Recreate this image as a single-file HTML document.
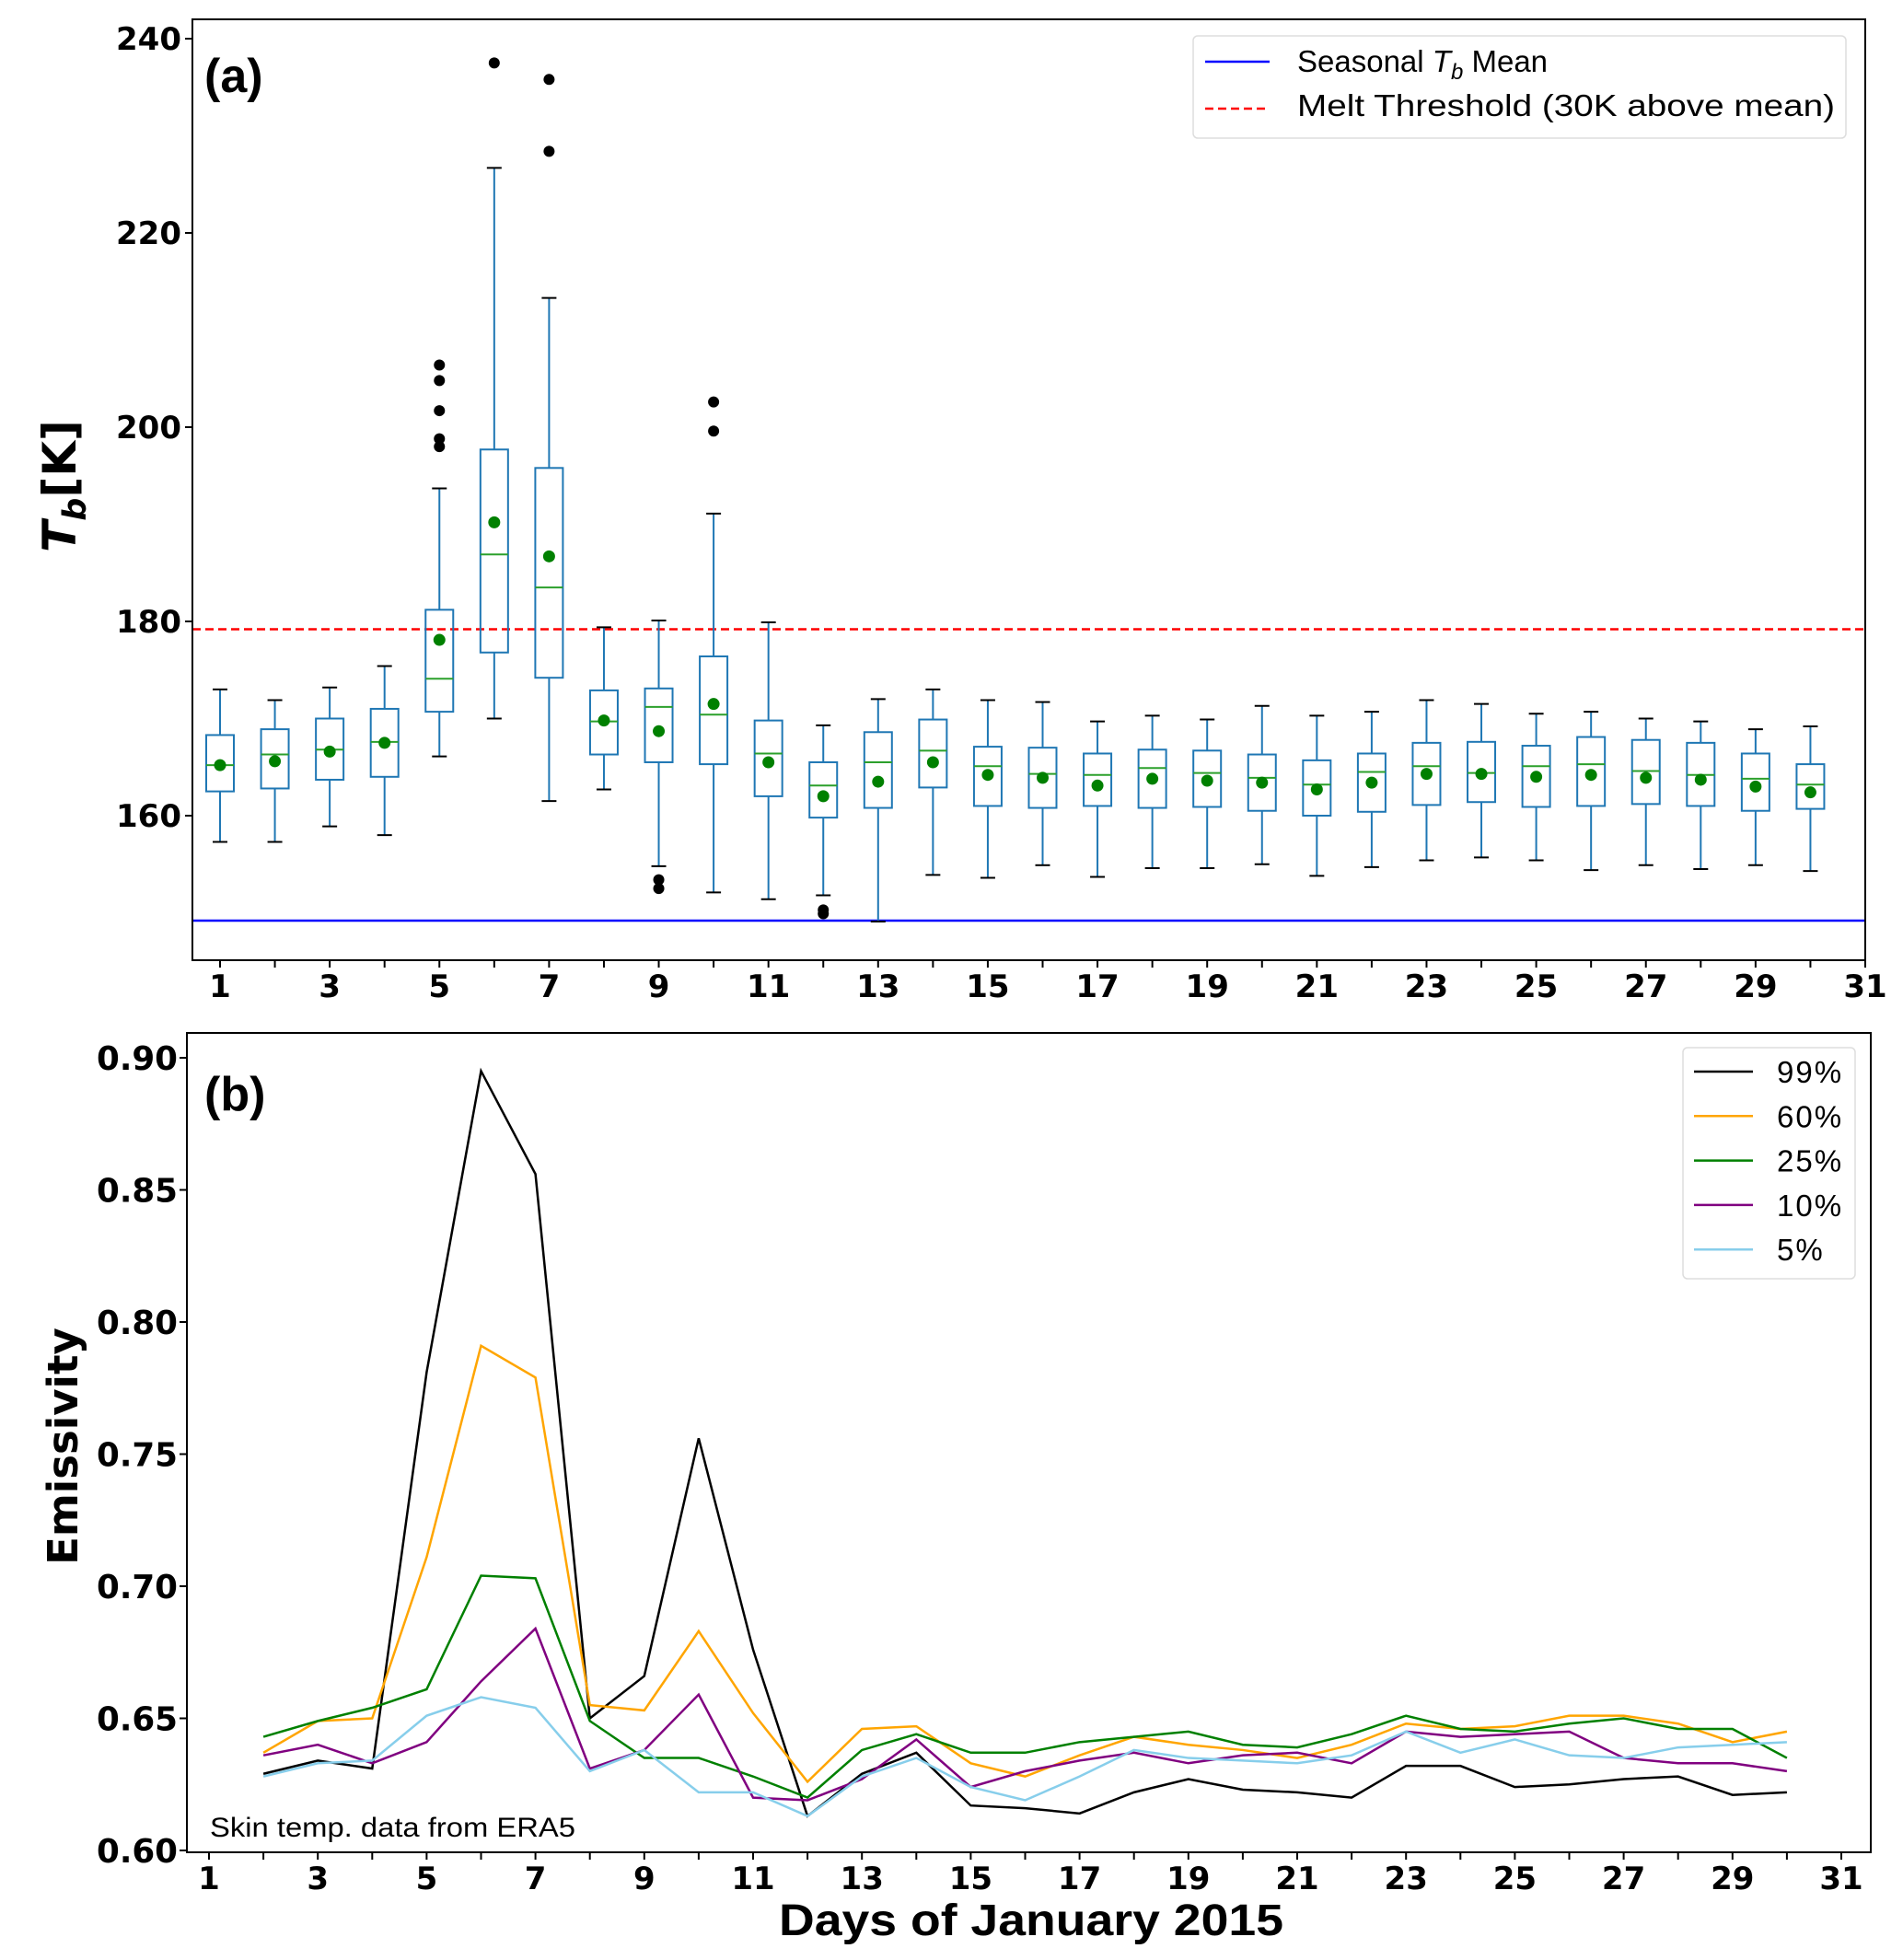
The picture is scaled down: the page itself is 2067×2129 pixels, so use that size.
<!DOCTYPE html>
<html><head><meta charset="utf-8"><style>
html,body{margin:0;padding:0;background:#fff;}
svg{display:block;}
.tk{font-family:"DejaVu Sans","Liberation Sans",sans-serif;font-weight:bold;font-size:34px;}
.tkb{font-family:"DejaVu Sans","Liberation Sans",sans-serif;font-weight:bold;font-size:36px;}
.nar{font-family:"Liberation Sans Narrow","Liberation Sans",sans-serif;}
</style></head><body>
<svg id="fig" width="2067" height="2129" viewBox="0 0 2067 2129" xmlns="http://www.w3.org/2000/svg"></svg>
<script>
// ---- Panel (a) data: box plot stats per day ----
const days = [1,2,3,4,5,6,7,8,9,10,11,12,13,14,15,16,17,18,19,20,21,22,23,24,25,26,27,28,29,30];
const whiskLo = [157.3,157.3,158.9,158.0,166.1,170.0,161.5,162.7,154.8,152.1,151.4,151.8,149.1,153.9,153.6,154.9,153.7,154.6,154.6,155.0,153.8,154.7,155.4,155.7,155.4,154.4,154.9,154.5,154.9,154.3];
const q1 = [162.5,162.8,163.7,164.0,170.7,176.8,174.2,166.3,165.5,165.3,162.0,159.8,160.8,162.9,161.0,160.8,161.0,160.8,160.9,160.5,160.0,160.4,161.1,161.4,160.9,161.0,161.2,161.0,160.5,160.7];
const medians = [165.2,166.3,166.8,167.6,174.1,186.9,183.5,169.7,171.2,170.4,166.4,163.1,165.5,166.7,165.1,164.3,164.2,164.9,164.4,163.9,163.2,164.5,165.1,164.4,165.1,165.3,164.6,164.2,163.8,163.2];
const q3 = [168.3,168.9,170.0,171.0,181.2,197.7,195.8,172.9,173.1,176.4,169.8,165.5,168.6,169.9,167.1,167.0,166.4,166.8,166.7,166.3,165.7,166.4,167.5,167.6,167.2,168.1,167.8,167.5,166.4,165.3];
const whiskHi = [173.0,171.9,173.2,175.4,193.7,226.7,213.3,179.4,180.1,191.1,179.9,169.3,172.0,173.0,171.9,171.7,169.7,170.3,169.9,171.3,170.3,170.7,171.9,171.5,170.5,170.7,170.0,169.7,168.9,169.2];
const means = [165.2,165.6,166.6,167.5,178.1,190.2,186.7,169.8,168.7,171.5,165.5,162.0,163.5,165.5,164.2,163.9,163.1,163.8,163.6,163.4,162.7,163.4,164.3,164.3,164.0,164.2,163.9,163.7,163.0,162.4];
const outlierDays = [5,5,5,5,5,6,7,7,9,9,10,10,12,12];
const outlierVals = [206.4,204.8,201.7,198.8,198.0,237.5,235.8,228.4,153.4,152.5,202.6,199.6,150.3,149.9];
const seasonalMean = 149.2;
const meltThreshold = 179.2;
const yTicksA = [160,180,200,220,240];
const xTickLabels = [1,3,5,7,9,11,13,15,17,19,21,23,25,27,29,31];

// ---- Panel (b) data ----
const daysB = [2,3,4,5,6,7,8,9,10,11,12,13,14,15,16,17,18,19,20,21,22,23,24,25,26,27,28,29,30];
const p99 = [0.629,0.634,0.631,0.781,0.895,0.856,0.650,0.666,0.756,0.676,0.613,0.629,0.637,0.617,0.616,0.614,0.622,0.627,0.623,0.622,0.620,0.632,0.632,0.624,0.625,0.627,0.628,0.621,0.622];
const p60 = [0.637,0.649,0.650,0.711,0.791,0.779,0.655,0.653,0.683,0.652,0.626,0.646,0.647,0.633,0.628,0.636,0.643,0.640,0.638,0.635,0.640,0.648,0.646,0.647,0.651,0.651,0.648,0.641,0.645];
const p25 = [0.643,0.649,0.654,0.661,0.704,0.703,0.649,0.635,0.635,0.628,0.620,0.638,0.644,0.637,0.637,0.641,0.643,0.645,0.640,0.639,0.644,0.651,0.646,0.645,0.648,0.650,0.646,0.646,0.635];
const p10 = [0.636,0.640,0.633,0.641,0.664,0.684,0.631,0.638,0.659,0.620,0.619,0.627,0.642,0.624,0.630,0.634,0.637,0.633,0.636,0.637,0.633,0.645,0.643,0.644,0.645,0.635,0.633,0.633,0.630];
const p5 = [0.628,0.633,0.634,0.651,0.658,0.654,0.630,0.638,0.622,0.622,0.613,0.628,0.635,0.624,0.619,0.628,0.638,0.635,0.634,0.633,0.636,0.645,0.637,0.642,0.636,0.635,0.639,0.640,0.641];
const seriesNames = ["99%","60%","25%","10%","5%"];
const seriesColors = ["#000000","#ffa500","#008000","#800080","#87ceeb"];
const yTicksB = [0.60,0.65,0.70,0.75,0.80,0.85,0.90];

const NS="http://www.w3.org/2000/svg";
const svg=document.getElementById('fig');
function mk(tag,attrs,parent){const e=document.createElementNS(NS,tag);for(const k in attrs)e.setAttribute(k,attrs[k]);(parent||svg).appendChild(e);return e;}

const A={l:209,r:2026,t:21,b:1043};
const xA=d=>239+(d-1)*(2026-239)/30;
const yA=v=>886-(v-160)*(886-42)/80;
const B={l:203,r:2032,t:1122,b:2012};
const xB=d=>227+(d-1)*(2000-227)/30;
const yB=v=>2010-(v-0.60)*(2010-1149)/0.30;

// ===== Panel (a) =====
const gA=mk('g',{});


let e;
e=mk('line',{x1:A.l,x2:A.r,y1:yA(seasonalMean),y2:yA(seasonalMean),stroke:'#0000ff','stroke-width':2.5},gA);

e=mk('line',{x1:A.l,x2:A.r,y1:yA(meltThreshold),y2:yA(meltThreshold),stroke:'#ff0000','stroke-width':2.5,'stroke-dasharray':'9,5'},gA);

const hw=15, cw=8;
days.forEach((d,i)=>{
  const g=mk('g',{},gA);
  
  
  const x=xA(d);
  mk('line',{x1:x,x2:x,y1:yA(whiskLo[i]),y2:yA(q1[i]),stroke:'#1f77b4','stroke-width':2},g);
  mk('line',{x1:x,x2:x,y1:yA(q3[i]),y2:yA(whiskHi[i]),stroke:'#1f77b4','stroke-width':2},g);
  mk('line',{x1:x-cw,x2:x+cw,y1:yA(whiskLo[i]),y2:yA(whiskLo[i]),stroke:'#000','stroke-width':2},g);
  mk('line',{x1:x-cw,x2:x+cw,y1:yA(whiskHi[i]),y2:yA(whiskHi[i]),stroke:'#000','stroke-width':2},g);
  mk('rect',{x:x-hw,y:yA(q3[i]),width:2*hw,height:yA(q1[i])-yA(q3[i]),fill:'none',stroke:'#1f77b4','stroke-width':2},g);
  mk('line',{x1:x-hw,x2:x+hw,y1:yA(medians[i]),y2:yA(medians[i]),stroke:'#2ca02c','stroke-width':2},g);
  const m=mk('circle',{cx:x,cy:yA(means[i]),r:6.5,fill:'#008000'},g);
  
  
});
outlierDays.forEach((d,i)=>{
  const c=mk('circle',{cx:xA(d),cy:yA(outlierVals[i]),r:6,fill:'#000'},gA);
  
  
});
e=mk('rect',{x:A.l,y:A.t,width:A.r-A.l,height:A.b-A.t,fill:'none',stroke:'#000','stroke-width':2},gA);

yTicksA.forEach(v=>{
  mk('line',{x1:A.l-8,x2:A.l,y1:yA(v),y2:yA(v),stroke:'#000','stroke-width':2},gA);
  const t=mk('text',{x:A.l-12,y:yA(v)+12,'text-anchor':'end',class:'tk'},gA);t.textContent=v;
  
});
for(let d=1;d<=31;d++) mk('line',{x1:xA(d),x2:xA(d),y1:A.b,y2:A.b+8,stroke:'#000','stroke-width':2},gA);
xTickLabels.forEach(d=>{
  const t=mk('text',{x:xA(d),y:1083,'text-anchor':'middle',class:'tk'},gA);t.textContent=d;
  
});
e=mk('text',{x:222,y:100,class:'nar','font-size':52,'font-weight':'bold'},gA);e.textContent='(a)';

e=mk('text',{x:0,y:0,transform:'translate(82,528) rotate(-90)','text-anchor':'middle','font-family':'DejaVu Sans, sans-serif','font-weight':'bold','font-size':50},gA);
e.innerHTML='<tspan font-style="italic">T</tspan><tspan font-style="italic" font-size="35" dy="11">b</tspan><tspan dy="-11">[K]</tspan>';

const lgA=mk('g',{},gA);


mk('rect',{x:1296,y:39,width:709,height:111,rx:5,fill:'#fff',stroke:'#ddd','stroke-width':1.5},lgA);
mk('line',{x1:1309,x2:1379,y1:67,y2:67,stroke:'#0000ff','stroke-width':2.5},lgA);
mk('line',{x1:1309,x2:1379,y1:118,y2:118,stroke:'#ff0000','stroke-width':2.5,'stroke-dasharray':'9,5'},lgA);
e=mk('text',{x:1409,y:78,class:'nar','font-size':33},lgA);
e.innerHTML='Seasonal <tspan font-style="italic">T</tspan><tspan font-style="italic" font-size="24" dy="8">b</tspan><tspan dy="-8"> Mean</tspan>';

e=mk('text',{x:1409,y:126,class:'nar','font-size':33,textLength:584,lengthAdjust:'spacingAndGlyphs'},lgA);
e.textContent='Melt Threshold (30K above mean)';


// ===== Panel (b) =====
const gB=mk('g',{});


const series=[p99,p60,p25,p10,p5];
series.forEach((s,k)=>{
  const pts=s.map((v,i)=>xB(daysB[i])+','+yB(v)).join(' ');
  const pl=mk('polyline',{points:pts,fill:'none',stroke:seriesColors[k],'stroke-width':2.5,'stroke-linejoin':'miter'},gB);
  
  
});
e=mk('rect',{x:B.l,y:B.t,width:B.r-B.l,height:B.b-B.t,fill:'none',stroke:'#000','stroke-width':2},gB);

yTicksB.forEach(v=>{
  mk('line',{x1:B.l-8,x2:B.l,y1:yB(v),y2:yB(v),stroke:'#000','stroke-width':2},gB);
  const t=mk('text',{x:B.l-10,y:yB(v)+13,'text-anchor':'end',class:'tkb',textLength:88,lengthAdjust:'spacingAndGlyphs'},gB);t.textContent=v.toFixed(2);
  
});
for(let d=1;d<=31;d++) mk('line',{x1:xB(d),x2:xB(d),y1:B.b,y2:B.b+8,stroke:'#000','stroke-width':2},gB);
xTickLabels.forEach(d=>{
  const t=mk('text',{x:xB(d),y:2052,'text-anchor':'middle',class:'tk'},gB);t.textContent=d;
  
});
e=mk('text',{x:222,y:1206,class:'nar','font-size':52,'font-weight':'bold'},gB);e.textContent='(b)';

e=mk('text',{x:228,y:1995,class:'nar','font-size':30,textLength:397,lengthAdjust:'spacingAndGlyphs'},gB);e.textContent='Skin temp. data from ERA5';

e=mk('text',{x:0,y:0,transform:'translate(84,1571) rotate(-90)','text-anchor':'middle','font-family':'DejaVu Sans, sans-serif','font-weight':'bold','font-size':45},gB);e.textContent='Emissivity';

e=mk('text',{x:1120,y:2102,'text-anchor':'middle',class:'nar','font-size':48,'font-weight':'bold',textLength:548,lengthAdjust:'spacingAndGlyphs'},gB);e.textContent='Days of January 2015';

const lgB=mk('g',{},gB);


mk('rect',{x:1828,y:1138,width:187,height:251,rx:5,fill:'#fff',stroke:'#ddd','stroke-width':1.5},lgB);
seriesNames.forEach((n,k)=>{
  const y=1164+k*48.3;
  mk('line',{x1:1840,x2:1904,y1:y,y2:y,stroke:seriesColors[k],'stroke-width':2.5},lgB);
  const t=mk('text',{x:1930,y:y+12,class:'nar','font-size':33,'letter-spacing':'2'},lgB);t.textContent=n;
  
  
});
</script>
</body></html>
